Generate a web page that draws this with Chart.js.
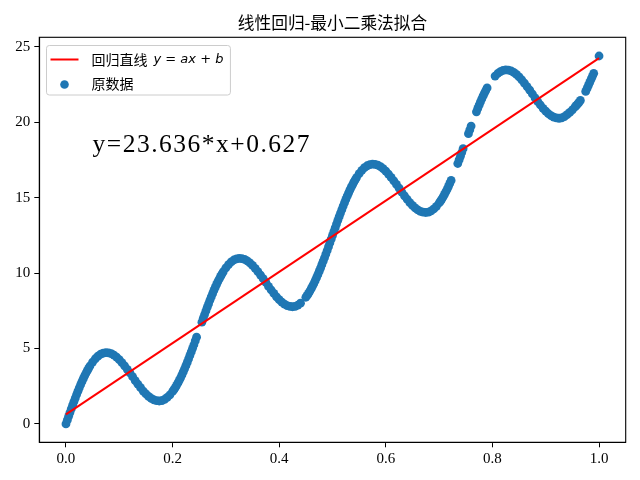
<!DOCTYPE html>
<html>
<head>
<meta charset="utf-8">
<title>线性回归-最小二乘法拟合</title>
<script src="https://cdn.jsdelivr.net/npm/chart.js"></script>
<style>
  html, body { margin: 0; padding: 0; background: #fff; }
  canvas { display: block; }
</style>
</head>
<body>
<canvas id="fitChart" width="640" height="480"></canvas>
<script>
// 原数据
const xData = [
  0, 0.005, 0.01, 0.015, 0.02, 0.025, 0.03, 0.035, 0.04, 0.045,
  0.05, 0.055, 0.06, 0.065, 0.07, 0.075, 0.08, 0.085, 0.09, 0.095,
  0.1, 0.105, 0.11, 0.115, 0.12, 0.125, 0.13, 0.135, 0.14, 0.145,
  0.15, 0.155, 0.16, 0.165, 0.17, 0.175, 0.18, 0.185, 0.19, 0.195,
  0.2, 0.205, 0.21, 0.215, 0.22, 0.225, 0.23, 0.235, 0.24, 0.245,
  0.255, 0.26, 0.265, 0.27, 0.275, 0.28, 0.285, 0.29, 0.295, 0.3,
  0.305, 0.31, 0.315, 0.32, 0.325, 0.33, 0.335, 0.34, 0.345, 0.35,
  0.355, 0.36, 0.365, 0.37, 0.375, 0.38, 0.385, 0.39, 0.395, 0.4,
  0.405, 0.41, 0.415, 0.42, 0.425, 0.43, 0.435, 0.44,
  0.45, 0.455, 0.46, 0.465, 0.47, 0.475, 0.48, 0.485, 0.49, 0.495,
  0.5, 0.505, 0.51, 0.515, 0.52, 0.525, 0.53, 0.535, 0.54, 0.545,
  0.55, 0.555, 0.56, 0.565, 0.57, 0.575, 0.58, 0.585, 0.59, 0.595,
  0.6, 0.605, 0.61, 0.615, 0.62, 0.625, 0.63, 0.635, 0.64, 0.645,
  0.65, 0.655, 0.66, 0.665, 0.67, 0.675, 0.68, 0.685, 0.69, 0.695,
  0.7, 0.705, 0.71, 0.715, 0.72,
  0.735, 0.74, 0.745,
  0.755, 0.76,
  0.77, 0.775, 0.78, 0.785, 0.79,
  0.805, 0.81, 0.815, 0.82, 0.825, 0.83, 0.835, 0.84, 0.845, 0.85,
  0.855, 0.86, 0.865, 0.87, 0.875, 0.88, 0.885, 0.89, 0.895, 0.9,
  0.905, 0.91, 0.915, 0.92, 0.925, 0.93, 0.935, 0.94, 0.945, 0.95,
  0.955, 0.96, 0.965,
  0.975, 0.98, 0.985, 0.99,
  1.0
];
const yData = [
  0, 0.50, 1.00, 1.48, 1.95, 2.39, 2.80, 3.19, 3.53, 3.84,
  4.10, 4.32, 4.49, 4.62, 4.70, 4.73, 4.71, 4.66, 4.56, 4.43,
  4.26, 4.07, 3.85, 3.62, 3.38, 3.13, 2.87, 2.63, 2.40, 2.18,
  1.99, 1.82, 1.69, 1.59, 1.54, 1.52, 1.55, 1.63, 1.76, 1.93,
  2.15, 2.41, 2.72, 3.06, 3.45, 3.86, 4.31, 4.77, 5.25, 5.75,
  6.75, 7.25, 7.73, 8.20, 8.64, 9.05, 9.44, 9.78, 10.09, 10.35,
  10.57, 10.74, 10.87, 10.95, 10.98, 10.96, 10.91, 10.81, 10.68, 10.51,
  10.32, 10.10, 9.87, 9.63, 9.38, 9.12, 8.88, 8.65, 8.43, 8.24,
  8.07, 7.94, 7.84, 7.79, 7.77, 7.80, 7.88, 8.01,
  8.40, 8.66, 8.97, 9.31, 9.70, 10.11, 10.56, 11.02, 11.50, 12.00,
  12.50, 13.00, 13.50, 13.98, 14.45, 14.89, 15.30, 15.69, 16.03, 16.34,
  16.60, 16.82, 16.99, 17.12, 17.20, 17.23, 17.21, 17.16, 17.06, 16.93,
  16.76, 16.57, 16.35, 16.12, 15.88, 15.63, 15.37, 15.13, 14.90, 14.68,
  14.49, 14.32, 14.19, 14.09, 14.04, 14.02, 14.05, 14.13, 14.26, 14.43,
  14.65, 14.91, 15.22, 15.56, 15.95,
  17.27, 17.75, 18.25,
  19.25, 19.75,
  20.70, 21.14, 21.55, 21.94, 22.28,
  23.07, 23.24, 23.37, 23.45, 23.48, 23.46, 23.41, 23.31, 23.18, 23.01,
  22.82, 22.60, 22.37, 22.13, 21.88, 21.62, 21.38, 21.15, 20.93, 20.74,
  20.57, 20.44, 20.34, 20.29, 20.27, 20.30, 20.38, 20.51, 20.66, 20.83,
  21.02, 21.22, 21.45,
  22.05, 22.45, 22.85, 23.25,
  24.40
];
// extra samples on the steep stretches, where the points are packed tighter
const xSteep = [
  0.0025, 0.0075, 0.0125, 0.0175, 0.0225, 0.0275, 0.0325, 0.0375, 0.0425,
  0.2025, 0.2075, 0.2125, 0.2175, 0.2225, 0.2275, 0.2325, 0.2375, 0.2425,
  0.2575, 0.2625, 0.2675, 0.2725, 0.2775, 0.2825, 0.2875, 0.2925,
  0.4525, 0.4575, 0.4625, 0.4675, 0.4725, 0.4775, 0.4825, 0.4875, 0.4925, 0.4975,
  0.5025, 0.5075, 0.5125, 0.5175, 0.5225, 0.5275, 0.5325, 0.5375, 0.5425,
  0.7025, 0.7075, 0.7125, 0.7175, 0.7225,
  0.7375, 0.7425, 0.7575,
  0.7725, 0.7775, 0.7825, 0.7875,
  0.9575, 0.9625, 0.9775, 0.9825, 0.9875
];
const ySteep = [
  0.25, 0.75, 1.24, 1.71, 2.17, 2.60, 3.00, 3.36, 3.69,
  2.27, 2.56, 2.89, 3.25, 3.65, 4.08, 4.54, 5.01, 5.50,
  7.00, 7.49, 7.96, 8.42, 8.85, 9.25, 9.61, 9.94,
  8.52, 8.81, 9.14, 9.50, 9.90, 10.33, 10.79, 11.26, 11.75, 12.25,
  12.75, 13.25, 13.74, 14.21, 14.67, 15.10, 15.50, 15.86, 16.19,
  14.77, 15.06, 15.39, 15.75, 16.15,
  17.51, 18.00, 19.50,
  20.92, 21.35, 21.75, 22.11,
  21.12, 21.33, 22.25, 22.65, 23.05
];

// 回归直线 y = a*x + b
const fitA = 23.636;
const fitB = 0.627;
const fitX = [0, 1];

const xTicks = [0, 0.2, 0.4, 0.6, 0.8, 1.0];
const yTicks = [0, 5, 10, 15, 20, 25];

const titleText = "线性回归-最小二乘法拟合";
const lineLabel = "回归直线";
const dotLabel = "原数据";
const eqText = "y=23.636*x+0.627";

const blue = "#1f77b4";
const red = "#ff0000";

const points = xData.map((x, i) => ({ x: x, y: yData[i] }))
  .concat(xSteep.map((x, i) => ({ x: x, y: ySteep[i] })));
const fitLine = fitX.map((x) => ({ x: x, y: fitA * x + fitB }));

function rr(ctx, x, y, w, h, r) {
  ctx.beginPath();
  ctx.moveTo(x + r, y);
  ctx.lineTo(x + w - r, y);
  ctx.arcTo(x + w, y, x + w, y + r, r);
  ctx.lineTo(x + w, y + h - r);
  ctx.arcTo(x + w, y + h, x + w - r, y + h, r);
  ctx.lineTo(x + r, y + h);
  ctx.arcTo(x, y + h, x, y + h - r, r);
  ctx.lineTo(x, y + r);
  ctx.arcTo(x, y, x + r, y, r);
  ctx.closePath();
}

const decorPlugin = {
  id: "decor",
  afterDraw(chart) {
    const ctx = chart.ctx;
    const area = chart.chartArea;
    const xs = chart.scales.x;
    const ys = chart.scales.y;
    ctx.save();

    // frame
    ctx.strokeStyle = "#000";
    ctx.lineWidth = 1.1;
    ctx.strokeRect(area.left, area.top, area.right - area.left, area.bottom - area.top);

    // title
    ctx.fillStyle = "#000";
    ctx.font = '16.7px "Noto Sans CJK SC"';
    ctx.textAlign = "center";
    ctx.textBaseline = "middle";
    ctx.fillText(titleText, (area.left + area.right) / 2, 23);

    // equation text at data (0.05, 18)
    ctx.font = '25.5px "Liberation Serif"';
    ctx.textAlign = "left";
    ctx.textBaseline = "alphabetic";
    ctx.letterSpacing = "1.5px";
    ctx.fillText(eqText, xs.getPixelForValue(0.05), ys.getPixelForValue(18));
    ctx.letterSpacing = "0px";

    // legend
    const cjk = '14px "Noto Sans CJK SC"';
    const it = 'italic 13px "DejaVu Sans"';
    const rm = '13px "DejaVu Sans"';
    const mathParts = [["y", it], [" = ", rm], ["ax", it], [" + ", rm], ["b", it]];
    const textX = 91.5;
    const gap = 6;
    ctx.font = cjk;
    let w1 = ctx.measureText(lineLabel).width + gap;
    for (const [s, f] of mathParts) { ctx.font = f; w1 += ctx.measureText(s).width; }
    const boxX = 46.5, boxY = 45.5;
    const boxW = textX + w1 + 7 - boxX;
    const boxH = 49.5;
    rr(ctx, boxX, boxY, boxW, boxH, 2.8);
    ctx.fillStyle = "rgba(255,255,255,0.8)";
    ctx.fill();
    ctx.strokeStyle = "#cccccc";
    ctx.lineWidth = 1;
    ctx.stroke();

    const row1 = 59.5, row2 = 83.5;
    ctx.strokeStyle = red;
    ctx.lineWidth = 2;
    ctx.beginPath();
    ctx.moveTo(50.5, row1);
    ctx.lineTo(78.5, row1);
    ctx.stroke();

    ctx.fillStyle = blue;
    ctx.beginPath();
    ctx.arc(64.5, row2 + 1, 4.3, 0, Math.PI * 2);
    ctx.fill();

    ctx.fillStyle = "#000";
    ctx.textBaseline = "middle";
    ctx.font = cjk;
    ctx.fillText(lineLabel, textX, row1);
    let cx = textX + ctx.measureText(lineLabel).width + gap;
    for (const [s, f] of mathParts) {
      ctx.font = f;
      ctx.fillText(s, cx, row1);
      cx += ctx.measureText(s).width;
    }
    ctx.font = cjk;
    ctx.fillText(dotLabel, textX, row2);
    ctx.restore();
  }
};

const tickFont = { family: "Liberation Serif", size: 15 };

new Chart(document.getElementById("fitChart"), {
  type: "scatter",
  data: {
    datasets: [
      {
        type: "line",
        label: lineLabel,
        data: fitLine,
        borderColor: red,
        borderWidth: 2,
        pointRadius: 0,
        fill: false,
        tension: 0
      },
      {
        label: dotLabel,
        data: points,
        backgroundColor: blue,
        borderWidth: 0,
        pointRadius: 4.4,
        pointHoverRadius: 4.4
      }
    ]
  },
  options: {
    responsive: false,
    animation: false,
    events: [],
    layout: { padding: { left: 0, right: 14.3, top: 37.3, bottom: 0 } },
    plugins: {
      legend: { display: false },
      title: { display: false },
      tooltip: { enabled: false }
    },
    scales: {
      x: {
        type: "linear",
        min: -0.05,
        max: 1.05,
        afterBuildTicks: (s) => { s.ticks = xTicks.map((v) => ({ value: v })); },
        afterFit: (s) => { s.height = 37.7; },
        grid: { drawOnChartArea: false, drawTicks: true, tickLength: 5, color: "#000", lineWidth: 1 },
        border: { display: true, color: "#000", width: 1.1 },
        ticks: {
          color: "#000",
          font: tickFont,
          padding: 3,
          maxRotation: 0,
          autoSkip: false,
          callback: (v) => Number(v).toFixed(1)
        }
      },
      y: {
        type: "linear",
        min: -1.22,
        max: 25.64,
        afterBuildTicks: (s) => { s.ticks = yTicks.map((v) => ({ value: v })); },
        afterFit: (s) => { s.width = 39.3; },
        grid: { drawOnChartArea: false, drawTicks: true, tickLength: 5, color: "#000", lineWidth: 1 },
        border: { display: true, color: "#000", width: 1.1 },
        ticks: {
          color: "#000",
          font: tickFont,
          padding: 4,
          autoSkip: false,
          callback: (v) => String(v)
        }
      }
    }
  },
  plugins: [decorPlugin]
});
</script>
</body>
</html>
